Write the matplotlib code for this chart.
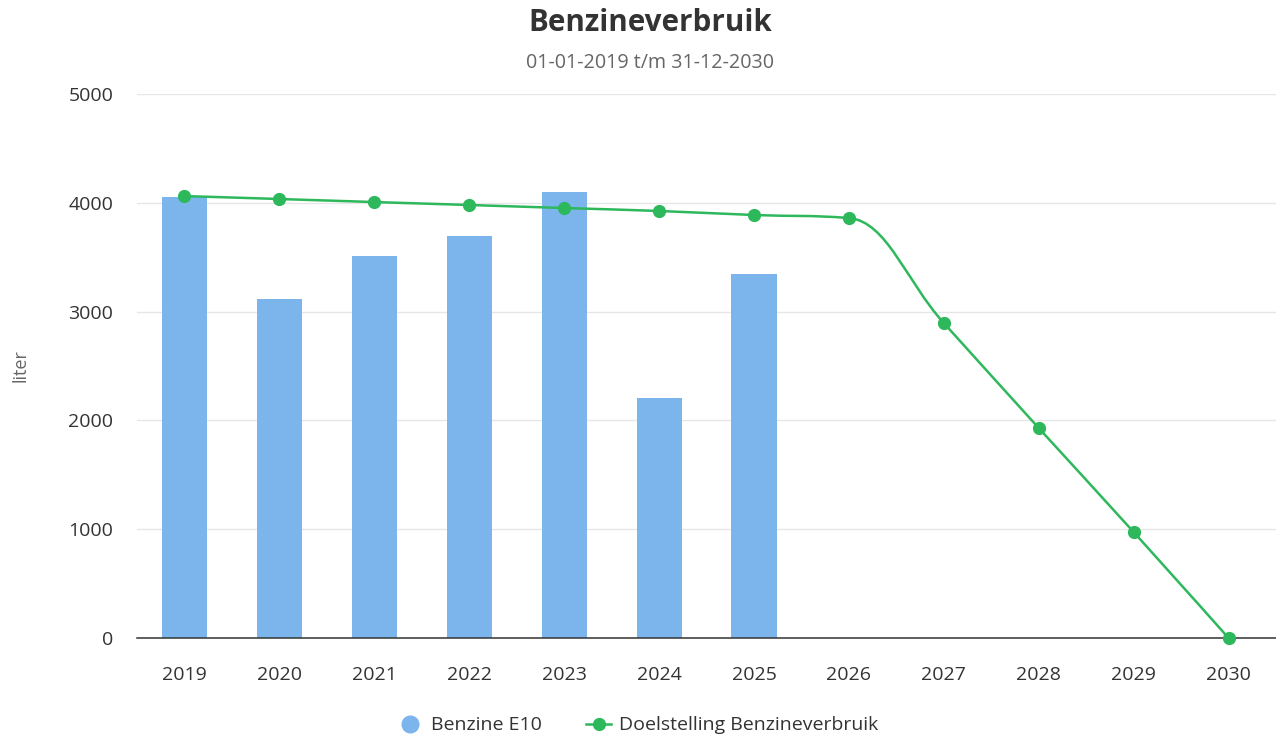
import numpy as np
import matplotlib
matplotlib.use('Agg')
import matplotlib.pyplot as plt
from matplotlib.path import Path
from matplotlib.patches import PathPatch
from matplotlib.lines import Line2D

plt.rcParams['font.family'] = ['Open Sans', 'DejaVu Sans']

# data
years = ['2019', '2020', '2021', '2022', '2023', '2024', '2025',
         '2026', '2027', '2028', '2029', '2030']
benzine_e10 = [4053, 3116, 3511, 3695, 4099, 2206, 3346]
doelstelling = [4062, 4035, 4007, 3980, 3952, 3925, 3888, 3860, 2895, 1930, 974, 0]

bar_color = '#7cb5ec'
line_color = '#2db85c'


def spline_path(xs, ys, smoothing=1.5):
    # Highcharts-achtige spline (bezier controlepunten)
    denom = smoothing + 1
    n = len(xs)
    left = [None] * n
    right = [None] * n
    for i in range(1, n - 1):
        x, y = xs[i], ys[i]
        lx, ly = xs[i - 1], ys[i - 1]
        nx, ny = xs[i + 1], ys[i + 1]
        lcx = (smoothing * x + lx) / denom
        lcy = (smoothing * y + ly) / denom
        rcx = (smoothing * x + nx) / denom
        rcy = (smoothing * y + ny) / denom
        if rcx != lcx:
            corr = (rcy - lcy) * (rcx - x) / (rcx - lcx) + y - rcy
            lcy += corr
            rcy += corr
        if lcy > ly and lcy > y:
            lcy = max(ly, y)
            rcy = 2 * y - lcy
        elif lcy < ly and lcy < y:
            lcy = min(ly, y)
            rcy = 2 * y - lcy
        if rcy > ny and rcy > y:
            rcy = max(ny, y)
            lcy = 2 * y - rcy
        elif rcy < ny and rcy < y:
            rcy = min(ny, y)
            lcy = 2 * y - rcy
        left[i] = (lcx, lcy)
        right[i] = (rcx, rcy)
    verts = [(xs[0], ys[0])]
    codes = [Path.MOVETO]
    for i in range(1, n):
        c1 = right[i - 1] if right[i - 1] is not None else (xs[i - 1], ys[i - 1])
        c2 = left[i] if left[i] is not None else (xs[i], ys[i])
        verts += [c1, c2, (xs[i], ys[i])]
        codes += [Path.CURVE4] * 3
    return Path(verts, codes)


fig = plt.figure(figsize=(12.76, 7.38), dpi=100)
ax = fig.add_axes([0.1074, 0.1355, 0.8926, 0.7371])

x_all = np.arange(len(years))
x_bar = np.arange(len(benzine_e10))

ax.bar(x_bar, benzine_e10, width=0.475, color=bar_color, zorder=2)

path = spline_path(list(x_all.astype(float)), [float(v) for v in doelstelling])
ax.add_patch(PathPatch(path, facecolor='none', edgecolor=line_color, lw=1.8, zorder=3,
                       capstyle='round', joinstyle='round'))
ax.plot(x_all, doelstelling, linestyle='none', marker='o', markersize=8.5,
        color=line_color, zorder=4, clip_on=False)

ax.set_xlim(-0.5, len(years) - 0.5)
ax.set_ylim(0, 5000)
ax.set_yticks([0, 1000, 2000, 3000, 4000, 5000])
ax.set_xticks(x_all)
ax.set_xticklabels(years)

ax.grid(axis='y', color='#e6e6e6', linewidth=1, zorder=0)
ax.set_axisbelow(True)
for s in ['top', 'right', 'left']:
    ax.spines[s].set_visible(False)
ax.spines['bottom'].set_color('#333333')
ax.spines['bottom'].set_linewidth(1.1)
ax.spines['bottom'].set_zorder(2.5)
ax.tick_params(axis='both', length=0, labelsize=14, colors='#333333')
ax.tick_params(axis='x', pad=20)
ax.tick_params(axis='y', pad=17)

ax.set_ylabel('liter', fontsize=13, color='#666666')
ax.yaxis.set_label_coords(-0.094, 0.5)

fig.text(0.5094, 0.969, 'Benzineverbruik', ha='center', va='center',
         fontsize=21.3, fontweight='bold', color='#333333')
fig.text(0.5094, 0.914, '01-01-2019 t/m 31-12-2030', ha='center', va='center',
         fontsize=14.2, color='#666666')

handles = [
    Line2D([], [], linestyle='none', marker='o', markersize=12, color=bar_color),
    Line2D([], [], color=line_color, lw=1.8, marker='o', markersize=8.5),
]
fig.legend(handles, ['Benzine E10', 'Doelstelling Benzineverbruik'],
           loc='center', bbox_to_anchor=(0.5, 0.017), ncol=2, frameon=False,
           fontsize=14, labelcolor='#333333', handlelength=1.3,
           columnspacing=2.3, handletextpad=0.4)

fig.savefig('out.png', dpi=100)
